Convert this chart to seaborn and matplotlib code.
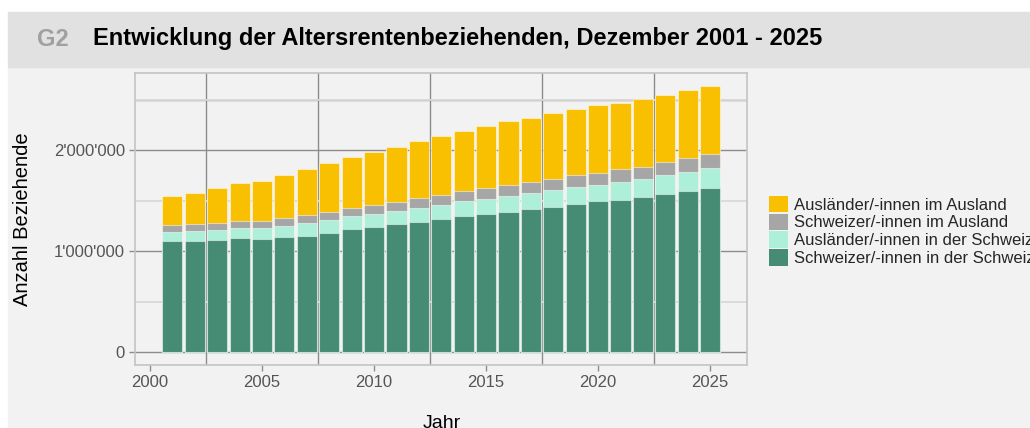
import matplotlib
matplotlib.use('Agg')
import matplotlib.pyplot as plt
import seaborn as sns
import pandas as pd
from matplotlib.patches import Patch, Rectangle
from matplotlib.ticker import FuncFormatter

# Altersrentenbeziehende, Dezember, in Tausend
years = list(range(2001, 2026))
schweizer_ch = [1101, 1101, 1111, 1127, 1121, 1137, 1153, 1183, 1220, 1242, 1269, 1292, 1318,
                1345, 1368, 1391, 1414, 1440, 1467, 1493, 1509, 1539, 1569, 1595, 1622]
auslaender_ch = [89, 96, 102, 102, 108, 112, 126, 126, 125, 129, 129, 138, 142,
                 148, 151, 158, 159, 162, 165, 162, 175, 178, 182, 188, 198]
schweizer_ausland = [69, 72, 69, 70, 70, 79, 76, 82, 85, 86, 92, 99, 99,
                     102, 103, 106, 108, 115, 119, 118, 129, 119, 131, 139, 138]
auslaender_ausland = [284, 307, 340, 376, 399, 423, 458, 478, 499, 524, 538, 561, 581,
                      597, 619, 633, 639, 650, 656, 670, 656, 666, 666, 672, 676]

series = ['Schweizer/-innen in der Schweiz', 'Ausländer/-innen in der Schweiz',
          'Schweizer/-innen im Ausland', 'Ausländer/-innen im Ausland']
colors = ['#468b73', '#adefd8', '#a6a6a6', '#f8c000']

df = pd.DataFrame({'Jahr': years,
                   series[0]: schweizer_ch, series[1]: auslaender_ch,
                   series[2]: schweizer_ausland, series[3]: auslaender_ausland})
# stacked tops, in persons
cum = df[series].cumsum(axis=1) * 1000
cum['Jahr'] = df['Jahr']

sns.set_style('white')
plt.rcParams['font.family'] = ['Liberation Sans', 'DejaVu Sans']

fig = plt.figure(figsize=(10.30, 4.28), dpi=100, facecolor='white')
fig.patches.append(Rectangle((8/1030, 0), 1, 1 - 67/428, transform=fig.transFigure,
                             color='#f2f2f2', zorder=-10))
fig.patches.append(Rectangle((8/1030, 1 - 67/428), 1, 55/428, transform=fig.transFigure,
                             color='#e1e1e1', zorder=-10))
fig.text(37/1030, 1 - 39/428, 'G2', color='#a0a0a0', weight='bold', size=17, va='center')
fig.text(93/1030, 1 - 39/428, 'Entwicklung der Altersrentenbeziehenden, Dezember 2001 - 2025',
         color='black', weight='bold', size=17, va='center')

ax = fig.add_axes([135.4/1030, 1 - 365/428, (747.3 - 135.4)/1030, (365 - 72.7)/428])
ax.set_facecolor('#f2f2f2')

# draw from the top of the stack downwards
for i in range(3, -1, -1):
    sns.barplot(data=cum, x='Jahr', y=series[i], native_scale=True, color=colors[i],
                saturation=1, width=0.9, errorbar=None,
                edgecolor=(1, 1, 1, 0.5), linewidth=0.8, ax=ax)

ax.set_xlim(1999.35, 2026.66)
ax.set_ylim(-126000, 2766000)

ax.set_xticks([2000, 2005, 2010, 2015, 2020, 2025])
ax.set_xticks([2002.5, 2007.5, 2012.5, 2017.5, 2022.5], minor=True)
ax.set_yticks([0, 1000000, 2000000])
ax.set_yticks([500000, 1500000, 2500000], minor=True)
ax.yaxis.set_major_formatter(FuncFormatter(lambda v, p: f"{int(v):,}".replace(',', "'")))

ax.set_axisbelow(True)
ax.grid(True, which='major', axis='y', color='#8c8c8c', lw=1)
ax.grid(True, which='minor', axis='y', color='#d9d9d9', lw=1.3)
ax.grid(True, which='minor', axis='x', color='#8c8c8c', lw=1)
ax.grid(False, which='major', axis='x')
ax.axhline(2500000, color='#8c8c8c', lw=1, zorder=0.5)

ax.tick_params(axis='both', which='major', labelsize=12, labelcolor='#555555',
               color='#8c8c8c', length=4, width=1, left=True, bottom=True)
ax.tick_params(axis='both', which='minor', length=0)
for s in ax.spines.values():
    s.set_color('#c4c4c4')
    s.set_linewidth(1.2)

ax.set_xlabel('Jahr', fontsize=14, color='black', labelpad=18)
ax.set_ylabel('Anzahl Beziehende', fontsize=14.5, color='black', labelpad=16)

handles = [Patch(facecolor=colors[i], edgecolor='none') for i in range(3, -1, -1)]
labels = [series[i] for i in range(3, -1, -1)]
fig.legend(handles, labels, loc='center left', bbox_to_anchor=(762/1030, 1 - 231/428),
           frameon=False, fontsize=12, handlelength=1.15, handleheight=1.15,
           handletextpad=0.35, labelspacing=0.06, borderaxespad=0)

fig.savefig('out.png', dpi=100, facecolor=fig.get_facecolor())
